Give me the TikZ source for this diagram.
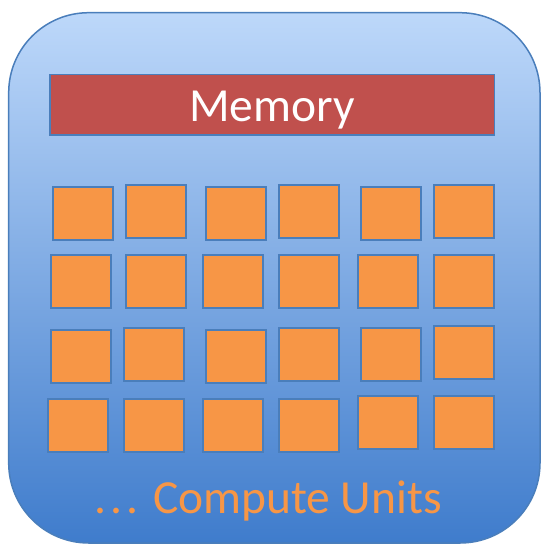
\documentclass[tikz,border=0pt]{standalone}
\usepackage{fontspec}
\setmainfont{Carlito}
\definecolor{bgtop}{HTML}{BDD8FA}
\definecolor{bgbot}{HTML}{3F7CCC}
\definecolor{edgeblue}{HTML}{4A7EBB}
\definecolor{memred}{HTML}{C0504D}
\definecolor{cuorange}{HTML}{F79646}
\tikzset{
  cu/.style={draw=edgeblue, line width=2pt, fill=cuorange, minimum width=60pt, minimum height=53pt, inner sep=0pt},
  membar/.style={draw=edgeblue, line width=1.5pt, fill=memred, minimum width=444.5pt, minimum height=60.5pt, inner sep=0pt},
  bigtext/.style={font=\fontsize{47.5}{52}\selectfont, inner sep=0pt},
}
\begin{document}
\begin{tikzpicture}[x=1pt,y=-1pt]
\useasboundingbox (0,0) rectangle (547,548);
\path[draw=edgeblue, line width=1.5pt, top color=bgtop, bottom color=bgbot, rounded corners=80pt]
  (8.7,12.7) rectangle (540,543);
\node[membar] (mem) at (272,105) {};
\node[bigtext, anchor=base, text=white] (memlabel) at (272,121.7) {Memory};
% row 1
\node[cu] (c11) at (82.7,213) {};
\node[cu] (c12) at (155.85,211) {};
\node[cu] (c13) at (235.7,213) {};
\node[cu] (c14) at (308.5,211) {};
\node[cu] (c15) at (390.7,213) {};
\node[cu] (c16) at (463.5,211) {};
% row 2
\node[cu] (c21) at (80.5,281.35) {};
\node[cu] (c22) at (155.85,281.35) {};
\node[cu] (c23) at (233.3,281.35) {};
\node[cu] (c24) at (308.5,281.35) {};
\node[cu] (c25) at (388.3,281.35) {};
\node[cu] (c26) at (463.5,281.35) {};
% row 3
\node[cu] (c31) at (80.5,356.65) {};
\node[cu] (c32) at (153.7,354.5) {};
\node[cu] (c33) at (235.7,356.65) {};
\node[cu] (c34) at (308.5,354.5) {};
\node[cu] (c35) at (390.7,354.65) {};
\node[cu] (c36) at (463.5,352.35) {};
% row 4
\node[cu] (c41) at (78.3,425.2) {};
\node[cu] (c42) at (153.7,425.2) {};
\node[cu] (c43) at (233.3,425.2) {};
\node[cu] (c44) at (308.5,425.2) {};
\node[cu] (c45) at (388.3,422.65) {};
\node[cu] (c46) at (463.5,422.65) {};
\node[bigtext, anchor=base west, text=cuorange] (culabel) at (94,513.3) {.\kern4.3pt.\kern4.3pt. Compute Units};
\end{tikzpicture}
\end{document}
